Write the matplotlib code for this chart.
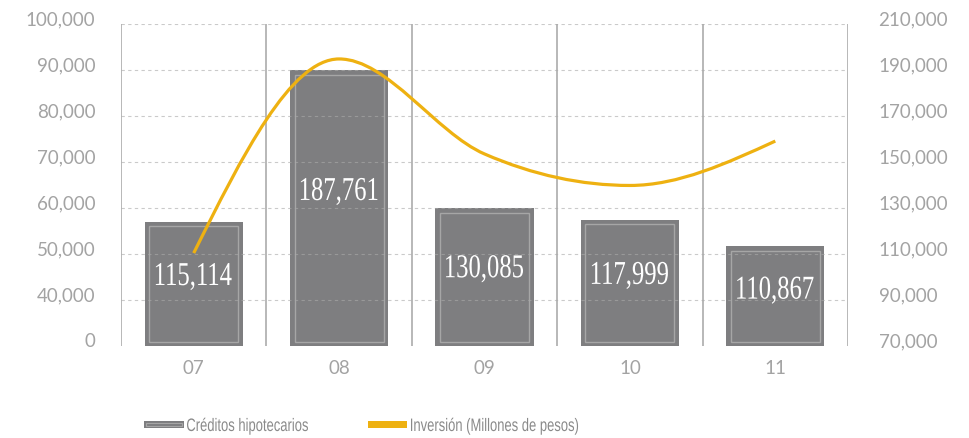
import numpy as np
import matplotlib
matplotlib.use('Agg')
import matplotlib.pyplot as plt
from matplotlib.path import Path
from matplotlib.patches import PathPatch, Rectangle
from matplotlib.textpath import TextPath
from matplotlib.font_manager import FontProperties
from matplotlib.transforms import Affine2D, ScaledTranslation

# data
years = ['07', '08', '09', '10', '11']
creditos = [56957, 90000, 60000, 57400, 51700]          # bar tops, left axis units
creditos_labels = ['115,114', '187,761', '130,085', '117,999', '110,867']
inversion = [110400, 194800, 153500, 139800, 159100]    # right axis
left_ticks = [30000, 40000, 50000, 60000, 70000, 80000, 90000, 100000]
left_ticklabels = ['0', '40,000', '50,000', '60,000', '70,000', '80,000', '90,000', '100,000']
right_ticks = [70000, 90000, 110000, 130000, 150000, 170000, 190000, 210000]

bar_color = '#7e7e80'
inner_color = '#a6a6a6'
line_color = '#eeb111'
tick_color = '#a3a3a3'
grid_color = '#aaaaaa'
sep_color = '#ababab'
legend_color = '#8a8a8a'

fig = plt.figure(figsize=(9.7, 4.38), dpi=100)
ax = fig.add_axes([121/970, 1-346/438, (848-121)/970, (346-24)/438])
ax2 = ax.twinx()


def squeezed_text(target, x, y, s, size, sx, color, family, trans,
                  ha='center', va='center', zorder=5):
    # text drawn as a path, squeezed horizontally (no condensed fonts here)
    tp = TextPath((0, 0), s, size=size, prop=FontProperties(family=family))
    bb = tp.get_extents()
    x0 = (bb.x0 + bb.x1) / 2 if ha == 'center' else bb.x0
    y0 = (bb.y0 + bb.y1) / 2 if va == 'center' else 0
    k = fig.dpi / 72
    tr = Affine2D().translate(-x0, -y0).scale(sx*k, k) + ScaledTranslation(x, y, trans)
    p = PathPatch(tp, transform=tr, facecolor=color, edgecolor='none', zorder=zorder)
    target.add_artist(p)
    return p


x = np.arange(len(years))
ax.set_xlim(-0.5, len(years)-0.5)
ax.set_ylim(left_ticks[0], left_ticks[-1])
ax2.set_ylim(right_ticks[0], right_ticks[-1])

# vertical separators
for b in np.arange(-0.5, len(years), 1.0):
    ax.axvline(b, color=sep_color, lw=1.2, zorder=1)

# bars with inner light outline
bw = 0.675
base = left_ticks[0]
heights = np.array(creditos) - base
ax.bar(x, heights, bw, bottom=base, color=bar_color, zorder=2)
ix = 0.031
iy = 4.5 / 46 * 10000
ax.bar(x, heights - 2*iy, bw - 2*ix, bottom=base + iy, facecolor='none',
       edgecolor=inner_color, lw=1.0, zorder=3)

# dashed grid, seen faintly through the bars
for t in left_ticks[1:]:
    ax.axhline(t, color=grid_color, alpha=0.62, lw=0.8, ls=(0, (3, 3)), zorder=3.5)

for xi, h, lab in zip(x, heights, creditos_labels):
    squeezed_text(ax, xi, base + 0.56*h, lab, 24, 0.74, 'white',
                  'Liberation Serif', ax.transData, zorder=4)

# smooth line (monotone cubic bezier through the points)
xs = x.astype(float)
ys = np.array(inversion, dtype=float)
n = len(xs)
s = np.diff(ys) / np.diff(xs)
t = np.zeros(n)
for i in range(1, n-1):
    if np.sign(s[i-1]) == np.sign(s[i]):
        p = (s[i-1] + s[i]) / 2
        t[i] = 2*np.sign(s[i]) * min(abs(s[i-1]), abs(s[i]), 0.5*abs(p))
t[0] = (3*s[0] - t[1]) / 2
t[-1] = (3*s[-1] - t[-2]) / 2
verts = [(xs[0], ys[0])]
codes = [Path.MOVETO]
for i in range(n-1):
    dx = (xs[i+1] - xs[i]) / 3
    verts += [(xs[i]+dx, ys[i]+dx*t[i]), (xs[i+1]-dx, ys[i+1]-dx*t[i+1]), (xs[i+1], ys[i+1])]
    codes += [Path.CURVE4]*3
ax2.add_patch(PathPatch(Path(verts, codes), facecolor='none', edgecolor=line_color,
                        lw=2.3, capstyle='butt', zorder=5))

# axes styling
for a in (ax, ax2):
    for sp in a.spines.values():
        sp.set_visible(False)
    a.tick_params(length=0)
ax.set_xticks(x)
ax.set_xticklabels(years)
ax.tick_params(axis='x', pad=10, labelsize=13.5, labelcolor=tick_color)
ax.set_yticks(left_ticks)
ax.set_yticklabels(left_ticklabels)
ax.tick_params(axis='y', pad=18.5, labelsize=13.5, labelcolor=tick_color)
ax2.set_yticks(right_ticks)
ax2.set_yticklabels([f'{v:,}' for v in right_ticks])
ax2.tick_params(axis='y', pad=22, labelsize=13.5, labelcolor=tick_color)
up = ScaledTranslation(0, 6/100, fig.dpi_scale_trans)
for lab in ax.get_yticklabels() + ax2.get_yticklabels():
    lab.set_transform(lab.get_transform() + up)
for lab in ax.get_xticklabels() + ax.get_yticklabels() + ax2.get_yticklabels():
    lab.set_fontfamily('Lato')
    lab.set_fontweight('normal')

# legend drawn by hand
fig.add_artist(Rectangle((144/970, 1-428/438), 40/970, 7/438, transform=fig.transFigure,
                         facecolor=bar_color, edgecolor='none'))
fig.add_artist(Rectangle((146/970, 1-426/438), 36/970, 3/438, transform=fig.transFigure,
                         facecolor='none', edgecolor=inner_color, lw=0.8))
squeezed_text(fig, 187/970, 1-431/438, 'Créditos hipotecarios', 13, 0.72, legend_color,
              'Liberation Sans', fig.transFigure, ha='left', va='baseline')
fig.add_artist(Rectangle((368/970, 1-428/438), 39/970, 7/438, transform=fig.transFigure,
                         facecolor=line_color, edgecolor='none'))
squeezed_text(fig, 411/970, 1-431/438, 'Inversión (Millones de pesos)', 13, 0.72, legend_color,
              'Liberation Sans', fig.transFigure, ha='left', va='baseline')

fig.savefig('out.png', dpi=100)
